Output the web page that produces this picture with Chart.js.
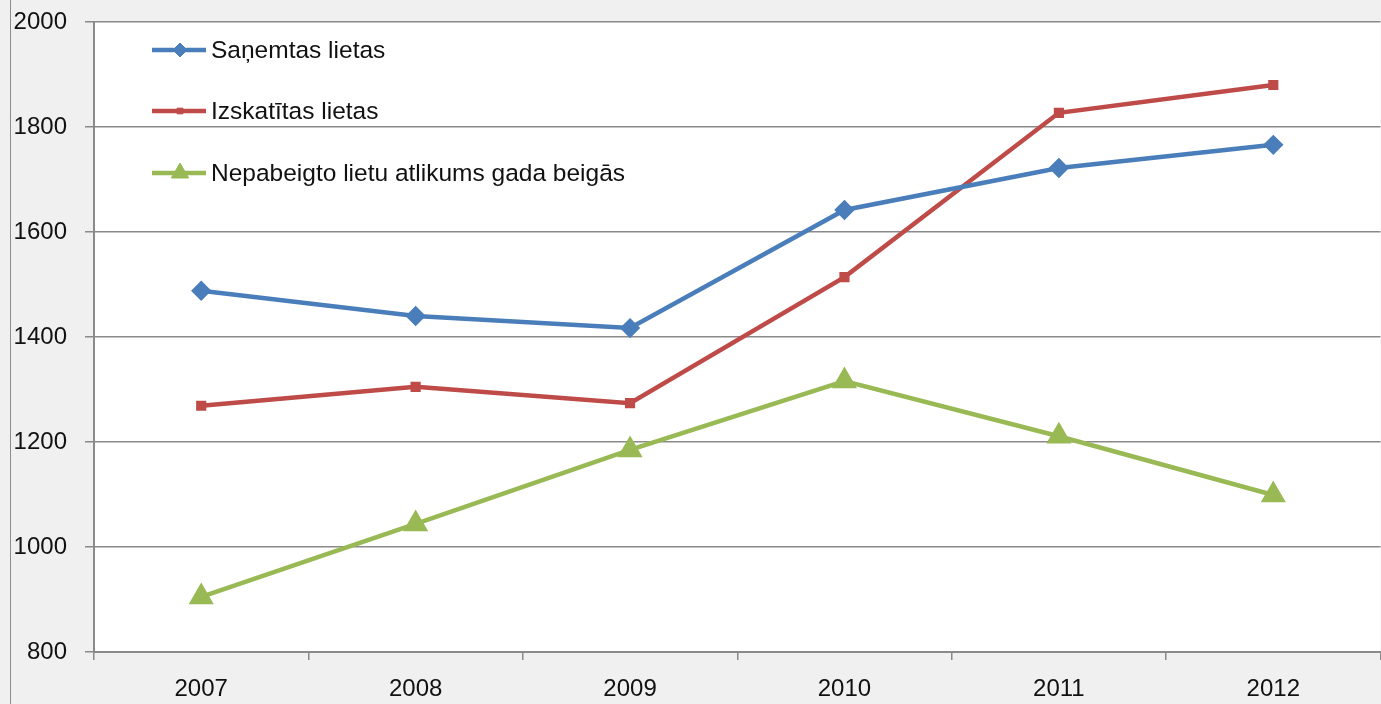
<!DOCTYPE html>
<html>
<head>
<meta charset="utf-8">
<script src="https://cdn.jsdelivr.net/npm/chart.js@4/dist/chart.umd.min.js"></script>
<style>
  html, body { margin: 0; padding: 0; background: #f0f0f0; overflow: hidden; }
  #wrap { width: 1395px; height: 704px; }
</style>
</head>
<body>
<div id="wrap"><canvas id="myChart" width="1395" height="704"></canvas></div>
<script>
// dati
var years = ["2007", "2008", "2009", "2010", "2011", "2012"];
var sanemtas = [1488, 1440, 1417, 1642, 1722, 1766];
var izskatitas = [1269, 1305, 1274, 1514, 1827, 1880];
var nepabeigto = [905, 1044, 1185, 1316, 1211, 1099];
var seriesNames = ["Saņemtas lietas", "Izskatītas lietas", "Nepabeigto lietu atlikums gada beigās"];

var gridColor = "#8a8a8a";
var fontFam = "'Liberation Sans', Arial, sans-serif";

/* balts fons zimejuma laukumam + ramis kreisaja puse */
var bgPlugin = {
  id: "bg",
  beforeDraw: function (chart) {
    var ctx = chart.ctx, a = chart.chartArea;
    ctx.save();
    ctx.fillStyle = "#ffffff";
    ctx.fillRect(a.left, a.top, a.right - a.left, a.bottom - a.top);
    ctx.strokeStyle = "#8c8c8c";
    ctx.lineWidth = 1;
    ctx.beginPath();
    ctx.moveTo(10.5, 0);
    ctx.lineTo(10.5, chart.height);
    ctx.stroke();
    ctx.restore();
  }
};

/* legenda iekš grafika */
var legendPlugin = {
  id: "innerLegend",
  afterDraw: function (chart) {
    var ctx = chart.ctx;
    var rows = [50, 111, 173];
    ctx.save();
    chart.data.datasets.forEach(function (ds, i) {
      var y = rows[i];
      ctx.strokeStyle = ds.borderColor;
      ctx.lineWidth = ds.borderWidth;
      ctx.beginPath();
      ctx.moveTo(152, y);
      ctx.lineTo(206, y);
      ctx.stroke();
      ctx.fillStyle = ds.pointBackgroundColor;
      ctx.strokeStyle = ds.pointBorderColor;
      ctx.lineWidth = 1;
      Chart.helpers.drawPoint(ctx, {
        pointStyle: ds.pointStyle,
        radius: ds.legendRadius,
        borderWidth: 1
      }, 180, y);
      ctx.fillStyle = "#111";
      ctx.font = "24.5px " + fontFam;
      ctx.textBaseline = "middle";
      ctx.fillText(ds.label, 211, y + 1);
    });
    ctx.restore();
  }
};

new Chart("myChart", {
  type: "line",
  data: {
    labels: years,
    datasets: [{
      label: seriesNames[0],
      data: sanemtas,
      borderColor: "#4a7ebb",
      pointBackgroundColor: "#4a7ebb",
      pointBorderColor: "#4a7ebb",
      borderWidth: 4.5,
      pointStyle: "rectRot",
      pointRadius: 7,
      legendRadius: 7,
      tension: 0
    }, {
      label: seriesNames[1],
      data: izskatitas,
      borderColor: "#be4b48",
      pointBackgroundColor: "#be4b48",
      pointBorderColor: "#be4b48",
      borderWidth: 4.5,
      pointStyle: "rect",
      pointRadius: 4,
      legendRadius: 4,
      tension: 0
    }, {
      label: seriesNames[2],
      data: nepabeigto,
      borderColor: "#98b954",
      pointBackgroundColor: "#98b954",
      pointBorderColor: "#98b954",
      borderWidth: 4.5,
      pointStyle: "triangle",
      pointRadius: 10,
      legendRadius: 10,
      tension: 0
    }]
  },
  options: {
    responsive: false,
    animation: false,
    layout: { padding: { top: 22, right: 8, left: 0, bottom: 0 } },
    plugins: {
      legend: { display: false },
      tooltip: { enabled: false }
    },
    scales: {
      x: {
        offset: true,
        grid: {
          offset: true,
          drawOnChartArea: false,
          color: gridColor,
          tickLength: 8,
          lineWidth: 1.5
        },
        border: { color: gridColor, width: 2 },
        ticks: {
          color: "#111",
          font: { family: fontFam, size: 24 },
          padding: 15
        },
        afterFit: function (s) { s.height = 52; s.paddingLeft = 0; s.paddingRight = 0; }
      },
      y: {
        min: 800,
        max: 2000,
        ticks: {
          stepSize: 200,
          color: "#111",
          font: { family: fontFam, size: 24 },
          padding: 18,
          callback: function (v) { return String(v); }
        },
        grid: {
          color: gridColor,
          lineWidth: 1.5,
          tickLength: 9
        },
        border: { color: gridColor, width: 2 },
        afterFit: function (s) { s.width = 94; s.paddingTop = 0; s.paddingBottom = 0; }
      }
    }
  },
  plugins: [bgPlugin, legendPlugin]
});
</script>
</body>
</html>
